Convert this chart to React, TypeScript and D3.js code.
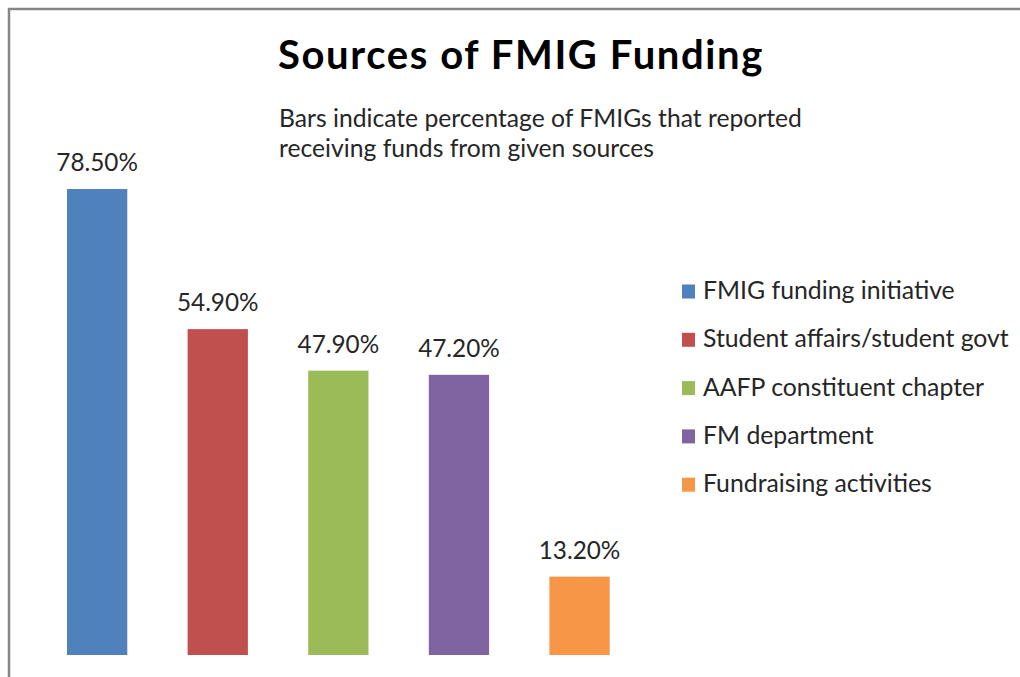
import React from 'react';
import * as d3 from 'd3';

const categories = [
  'FMIG funding initiative',
  'Student affairs/student govt',
  'AAFP constituent chapter',
  'FM department',
  'Fundraising activities',
];
const values = [78.5, 54.9, 47.9, 47.2, 13.2];
const colors = ['#4F81BD', '#C0504D', '#9BBB59', '#8064A2', '#F79646'];
const title = 'Sources of FMIG Funding';
const subtitle = [
  'Bars indicate percentage of FMIGs that reported',
  'receiving funds from given sources',
];

const W = 1020;
const H = 677;
const FONT = 'Lato, "Noto Sans", sans-serif';

export default function App() {
  const x = d3.scaleBand<string>()
    .domain(categories)
    .range([36.85, 639.85])
    .paddingInner(0.5)
    .paddingOuter(0.25);

  const y = d3.scaleLinear()
    .domain([0, 100])
    .range([655, 61.4]);

  const legendY = d3.scalePoint<string>()
    .domain(categories)
    .range([291.5, 484.7]);

  return (
    <svg width={W} height={H} style={{ position: 'fixed', left: 0, top: 0, background: '#fff' }}>
      {/* chart frame, cut off at right and bottom */}
      <path d={`M9,${H} V9 H${W}`} fill="none" stroke="#868686" strokeWidth={2.5} />

      <text x={521} y={69} textAnchor="middle" fontFamily={FONT} fontWeight="bold"
        fontSize={40} letterSpacing={1.6} fill="#000">{title}</text>

      {subtitle.map((s, i) => (
        <text key={i} x={279} y={127 + i * 30} fontFamily={FONT} fontSize={24.7} fill="#262626">{s}</text>
      ))}

      {categories.map((c, i) => (
        <g key={c}>
          <rect x={x(c)} y={y(values[i])} width={x.bandwidth()} height={y(0) - y(values[i])}
            fill={colors[i]} />
          <text x={(x(c) as number) + x.bandwidth() / 2} y={y(values[i]) - 18} textAnchor="middle"
            fontFamily={FONT} fontSize={24.3} fill="#262626">{values[i].toFixed(2) + '%'}</text>
        </g>
      ))}

      {categories.map((c, i) => (
        <g key={'lg' + c}>
          <rect x={682} y={(legendY(c) as number) - 7} width={13} height={14} fill={colors[i]} />
          <text x={703} y={(legendY(c) as number) + 7.5} fontFamily={FONT} fontSize={24.8}
            fill="#262626">{c}</text>
        </g>
      ))}
    </svg>
  );
}
